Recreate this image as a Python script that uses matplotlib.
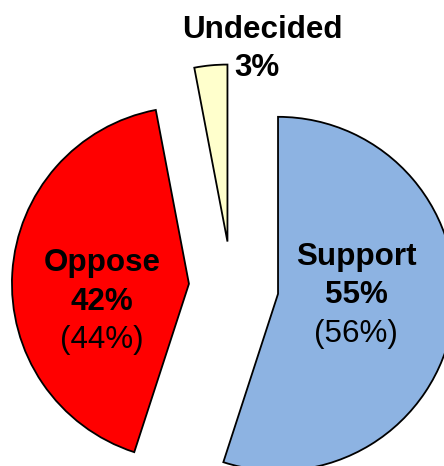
import matplotlib
matplotlib.use("Agg")
import matplotlib.pyplot as plt

# Data
categories = ["Support", "Oppose", "Undecided"]
values = [55, 42, 3]
previous = ["(56%)", "(44%)", None]
colors = ["#8DB3E2", "#FF0000", "#FFFFCC"]

# Layout (pixel coordinates, y measured from top)
W, H = 444, 466
center_px = (231.7, 286.5)
radius = 177
explode_frac = [0.265, 0.242, 0.255]
label_pos = [(356, [265, 303, 342]), (102, [271, 310, 348]), (262, [38, 76])]
FS = 22.6

plt.rcParams['font.family'] = ['Liberation Sans', 'DejaVu Sans']

fig = plt.figure(figsize=(W / 100, H / 100), dpi=100)
ax = fig.add_axes([0, 0, 1, 1])
# matplotlib's explode offsets are in data units, so scale by radius
ax.pie(values, colors=colors, startangle=90, counterclock=False,
       explode=[e * radius for e in explode_frac], radius=radius,
       center=(center_px[0], H - center_px[1]),
       wedgeprops=dict(edgecolor="black", linewidth=1.3))
ax.set_xlim(0, W)
ax.set_ylim(0, H)
ax.set_aspect("equal")
ax.axis("off")

for i, cat in enumerate(categories):
    x, ys = label_pos[i]
    ax.text(x, H - ys[0], cat, ha="center", va="baseline",
            fontsize=FS, fontweight="bold")
    xp = x - 5 if i == 2 else x
    ax.text(xp, H - ys[1], f"{values[i]}%", ha="center", va="baseline",
            fontsize=FS, fontweight="bold")
    if previous[i]:
        ax.text(x, H - ys[2], previous[i], ha="center", va="baseline",
                fontsize=FS)

fig.savefig("out.png", dpi=100)
